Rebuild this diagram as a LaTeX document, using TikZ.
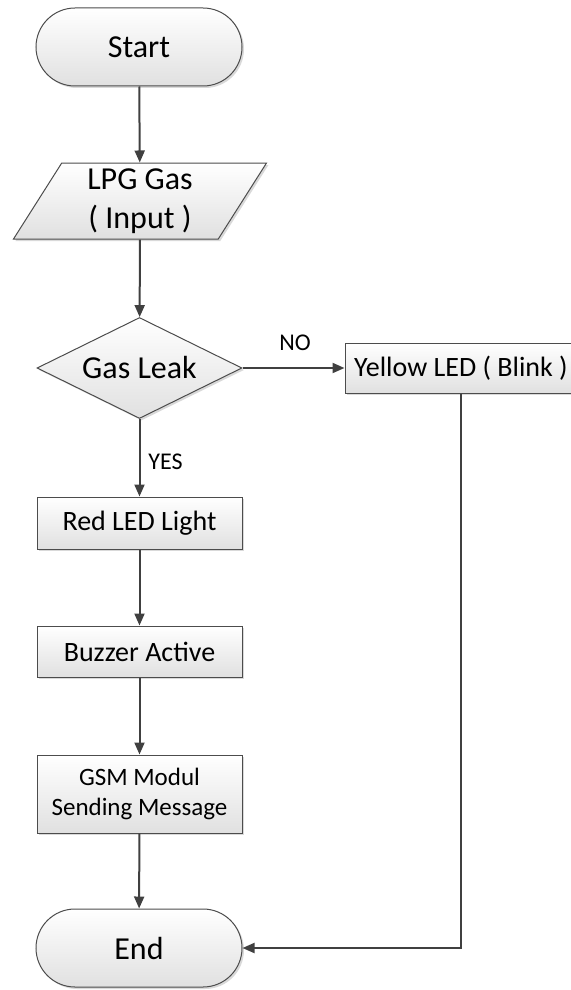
\documentclass[tikz,border=0pt]{standalone}
\usepackage{fontspec}
\setmainfont{Carlito}
\usetikzlibrary{shapes.geometric,arrows.meta,shadows}

\tikzset{
  fcbase/.style={draw=black!70, line width=0.5pt, top color=white, bottom color=black!12,
    drop shadow={shadow xshift=1pt, shadow yshift=-1pt, opacity=0.25, fill=black!60},
    inner sep=0pt, align=center, text=black},
  termbox/.style={fcbase, rectangle, rounded corners=19.5pt, minimum width=103pt,
    minimum height=39pt, font=\fontsize{16}{19.5}\selectfont},
  iobox/.style={fcbase, trapezium, trapezium left angle=63.4, trapezium right angle=116.6,
    trapezium stretches=true, minimum width=127pt, minimum height=38pt,
    font=\fontsize{16}{19.5}\selectfont},
  decbox/.style={fcbase, diamond, aspect=2, minimum width=102.5pt, minimum height=50.5pt,
    font=\fontsize{16}{19.5}\selectfont},
  procbox/.style={fcbase, rectangle, minimum width=102.5pt, minimum height=26pt,
    font=\fontsize{14}{17}\selectfont},
  flow/.style={draw=black!75, line width=1pt, -{Triangle[length=6pt,width=5pt]}},
  lbl/.style={font=\fontsize{12}{14}\selectfont, inner sep=0pt}
}

\begin{document}
\begin{tikzpicture}[x=0.5pt,y=-0.5pt]
\useasboundingbox (0,0) rectangle (571,990);

%Terminals
\node [termbox] (start) at (139,47) {Start};
\node [termbox] (end) at (139,948) {End};

%Input
\node [iobox] (input) at (140,201) {LPG Gas\\( Input )};

%Decision
\node [decbox] (leak) at (139.5,368) {Gas Leak};

%Process boxes
\node [procbox, minimum width=116pt, minimum height=25pt] (yellow) at (461,368) {Yellow LED ( Blink )};
\node [procbox] (red) at (139.5,523) {Red LED Light};
\node [procbox, minimum height=25.5pt] (buzzer) at (139.5,651.5) {Buzzer Active};
\node [procbox, minimum height=39pt, font=\fontsize{12.5}{15}\selectfont] (gsm) at (139.5,794) {GSM Modul\\Sending Message};

%Connectors
\draw [flow] (start) -- (input);
\draw [flow] (input) -- (leak);
\draw [flow] (leak) -- (red);
\draw [flow] (leak) -- (yellow);
\draw [flow] (red) -- (buzzer);
\draw [flow] (buzzer) -- (gsm);
\draw [flow] (gsm) -- (end);
\draw [flow] (yellow.south) |- (end.east);

% Text Node
\node [lbl] (nolbl) at (295,343) {NO};
% Text Node
\node [lbl, anchor=west] (yeslbl) at (148,462) {YES};
\end{tikzpicture}
\end{document}
